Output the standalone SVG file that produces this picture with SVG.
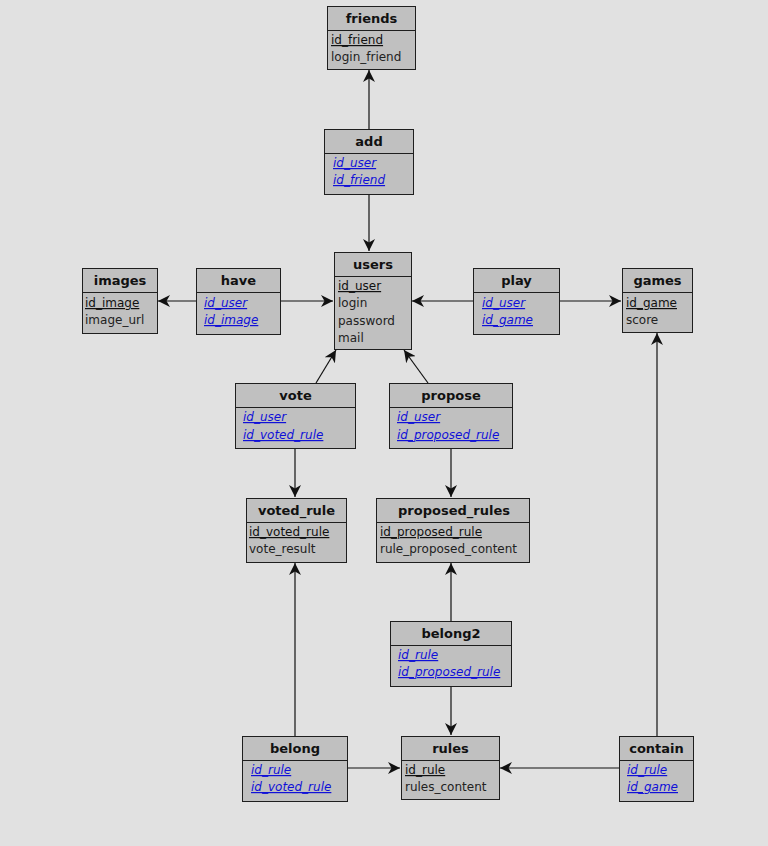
<svg xmlns="http://www.w3.org/2000/svg" width="768" height="846" viewBox="0 0 768 846">
<style>
.box{fill:#c0c0c0;stroke:#1e1e1e;stroke-width:1}
.sep{stroke:#1e1e1e;stroke-width:1}
.t{font-family:"DejaVu Sans",sans-serif;font-weight:bold;font-size:13px;fill:#111;text-anchor:middle}
.f{font-family:"DejaVu Sans",sans-serif;font-size:12px;fill:#222}
.pk{text-decoration:underline;fill:#111}
.fk{fill:#1010d8;font-style:italic;text-decoration:underline}
.c{stroke:#111;stroke-width:1.2;fill:none;marker-end:url(#ah)}
</style>
<defs>
<marker id="ah" viewBox="0 0 12 12" refX="12" refY="6" markerWidth="12" markerHeight="12" markerUnits="userSpaceOnUse" orient="auto">
<path d="M0,0 L12,6 L0,12 L3.5,6 z" fill="#111"/>
</marker>
</defs>
<rect width="768" height="846" fill="#e1e1e1"/>
<g id="connectors">
<line class="c" x1="369" y1="129" x2="369" y2="70"/>
<line class="c" x1="369" y1="194" x2="369" y2="251"/>
<line class="c" x1="196" y1="301" x2="158" y2="301"/>
<line class="c" x1="280" y1="301" x2="333" y2="301"/>
<line class="c" x1="473" y1="301" x2="412" y2="301"/>
<line class="c" x1="559" y1="301" x2="621" y2="301"/>
<line class="c" x1="316" y1="383" x2="336" y2="350"/>
<line class="c" x1="428" y1="383" x2="404" y2="350"/>
<line class="c" x1="295" y1="448" x2="295" y2="497"/>
<line class="c" x1="451" y1="448" x2="451" y2="497"/>
<line class="c" x1="451" y1="621" x2="451" y2="563"/>
<line class="c" x1="295" y1="736" x2="295" y2="563"/>
<line class="c" x1="451" y1="686" x2="451" y2="735"/>
<line class="c" x1="347" y1="768" x2="400" y2="768"/>
<line class="c" x1="619" y1="768" x2="500" y2="768"/>
<line class="c" x1="657" y1="736" x2="657" y2="333"/>
</g>
<g id="friends">
<rect class="box" x="327.5" y="6.5" width="88" height="63"/>
<line class="sep" x1="327.5" y1="30.5" x2="415.5" y2="30.5"/>
<text class="t" x="371.5" y="23">friends</text>
<text class="f pk" x="331" y="44">id_friend</text>
<text class="f" x="331" y="61">login_friend</text>
</g>
<g id="add">
<rect class="box" x="324.5" y="129.5" width="89" height="65"/>
<line class="sep" x1="324.5" y1="153.5" x2="413.5" y2="153.5"/>
<text class="t" x="369" y="146">add</text>
<text class="f fk" x="333" y="167">id_user</text>
<text class="f fk" x="333" y="184">id_friend</text>
</g>
<g id="users">
<rect class="box" x="334.5" y="252.5" width="77" height="97"/>
<line class="sep" x1="334.5" y1="276.5" x2="411.5" y2="276.5"/>
<text class="t" x="373" y="269">users</text>
<text class="f pk" x="338" y="290">id_user</text>
<text class="f" x="338" y="307">login</text>
<text class="f" x="338" y="325">password</text>
<text class="f" x="338" y="342">mail</text>
</g>
<g id="images">
<rect class="box" x="82.5" y="268.5" width="75" height="65"/>
<line class="sep" x1="82.5" y1="292.5" x2="157.5" y2="292.5"/>
<text class="t" x="120" y="285">images</text>
<text class="f pk" x="85" y="307">id_image</text>
<text class="f" x="85" y="324">image_url</text>
</g>
<g id="have">
<rect class="box" x="196.5" y="268.5" width="84" height="66"/>
<line class="sep" x1="196.5" y1="292.5" x2="280.5" y2="292.5"/>
<text class="t" x="238.5" y="285">have</text>
<text class="f fk" x="204" y="307">id_user</text>
<text class="f fk" x="204" y="324">id_image</text>
</g>
<g id="play">
<rect class="box" x="473.5" y="268.5" width="86" height="66"/>
<line class="sep" x1="473.5" y1="292.5" x2="559.5" y2="292.5"/>
<text class="t" x="516.5" y="285">play</text>
<text class="f fk" x="482" y="307">id_user</text>
<text class="f fk" x="482" y="324">id_game</text>
</g>
<g id="games">
<rect class="box" x="622.5" y="268.5" width="70" height="64"/>
<line class="sep" x1="622.5" y1="292.5" x2="692.5" y2="292.5"/>
<text class="t" x="657.5" y="285">games</text>
<text class="f pk" x="626" y="307">id_game</text>
<text class="f" x="626" y="324">score</text>
</g>
<g id="vote">
<rect class="box" x="235.5" y="383.5" width="120" height="65"/>
<line class="sep" x1="235.5" y1="407.5" x2="355.5" y2="407.5"/>
<text class="t" x="295.5" y="400">vote</text>
<text class="f fk" x="243" y="421">id_user</text>
<text class="f fk" x="243" y="439">id_voted_rule</text>
</g>
<g id="propose">
<rect class="box" x="389.5" y="383.5" width="123" height="65"/>
<line class="sep" x1="389.5" y1="407.5" x2="512.5" y2="407.5"/>
<text class="t" x="451" y="400">propose</text>
<text class="f fk" x="397" y="421">id_user</text>
<text class="f fk" x="397" y="439">id_proposed_rule</text>
</g>
<g id="voted_rule">
<rect class="box" x="246.5" y="498.5" width="100" height="64"/>
<line class="sep" x1="246.5" y1="522.5" x2="346.5" y2="522.5"/>
<text class="t" x="296.5" y="515">voted_rule</text>
<text class="f pk" x="249" y="536">id_voted_rule</text>
<text class="f" x="249" y="553">vote_result</text>
</g>
<g id="proposed_rules">
<rect class="box" x="376.5" y="498.5" width="153" height="64"/>
<line class="sep" x1="376.5" y1="522.5" x2="529.5" y2="522.5"/>
<text class="t" x="454" y="515">proposed_rules</text>
<text class="f pk" x="380" y="536">id_proposed_rule</text>
<text class="f" x="380" y="553">rule_proposed_content</text>
</g>
<g id="belong2">
<rect class="box" x="390.5" y="621.5" width="121" height="65"/>
<line class="sep" x1="390.5" y1="645.5" x2="511.5" y2="645.5"/>
<text class="t" x="451" y="638">belong2</text>
<text class="f fk" x="398" y="659">id_rule</text>
<text class="f fk" x="398" y="676">id_proposed_rule</text>
</g>
<g id="belong">
<rect class="box" x="242.5" y="736.5" width="105" height="65"/>
<line class="sep" x1="242.5" y1="760.5" x2="347.5" y2="760.5"/>
<text class="t" x="295" y="753">belong</text>
<text class="f fk" x="251" y="774">id_rule</text>
<text class="f fk" x="251" y="791">id_voted_rule</text>
</g>
<g id="rules">
<rect class="box" x="401.5" y="736.5" width="98" height="63"/>
<line class="sep" x1="401.5" y1="760.5" x2="499.5" y2="760.5"/>
<text class="t" x="450.5" y="753">rules</text>
<text class="f pk" x="405" y="774">id_rule</text>
<text class="f" x="405" y="791">rules_content</text>
</g>
<g id="contain">
<rect class="box" x="619.5" y="736.5" width="74" height="65"/>
<line class="sep" x1="619.5" y1="760.5" x2="693.5" y2="760.5"/>
<text class="t" x="656.5" y="753">contain</text>
<text class="f fk" x="627" y="774">id_rule</text>
<text class="f fk" x="627" y="791">id_game</text>
</g>
</svg>
